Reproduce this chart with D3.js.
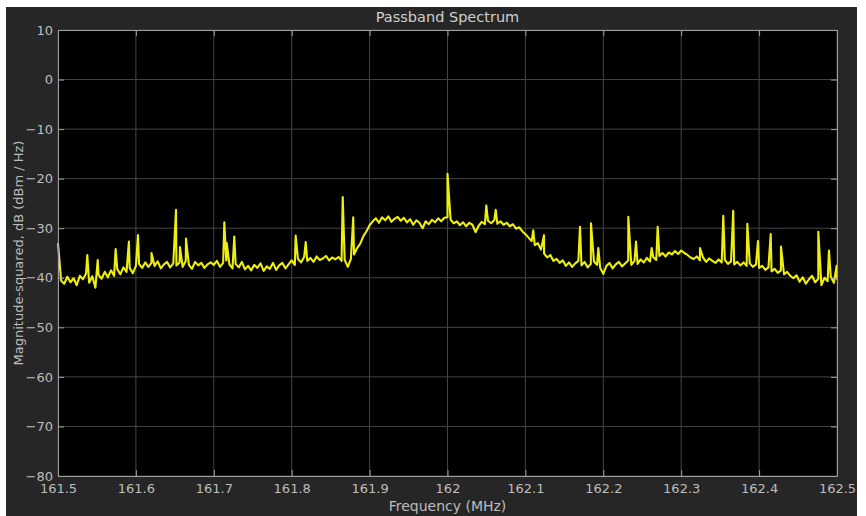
<!DOCTYPE html>
<html>
<head>
<meta charset="utf-8">
<script src="https://cdn.jsdelivr.net/npm/d3@7"></script>
<style>
  body { margin: 0; background: #fff; }
  text { font-family: "DejaVu Sans", Verdana, sans-serif; }
</style>
</head>
<body>
<div id="chart"></div>
<script>
// spectrum floor, sampled every 0.004 MHz from 161.5 MHz
var freqStart = 161.5;
var freqStep = 0.004;
var level = [
  -33.0, -40.6, -41.2, -39.8, -40.9, -40.1, -41.5, -39.6, -40.3, -39.2, -41.0, -39.7, -42.0, -39.4, -40.2,
  -38.8, -39.9, -38.5, -39.6, -38.2, -39.3, -37.9, -38.8, -38.0, -39.1, -37.6,
  -37.2, -38.0, -36.9, -37.8, -37.0, -37.6, -36.7, -38.1, -37.3, -36.8, -37.9, -37.1, -37.5, -36.9, -37.8, -36.6, -37.4, -38.2, -36.8, -37.5, -37.0, -38.0, -37.3, -36.9,
  -37.4, -36.6, -37.8, -37.0, -36.5, -37.3, -38.1, -37.2, -37.9, -36.8, -38.3, -37.6, -38.5, -37.4, -38.0, -37.1, -38.6, -37.7, -38.2, -37.0, -38.4, -37.5, -37.0, -38.1, -37.3,
  -36.5, -37.4, -36.2, -36.9, -35.8, -36.6, -36.0, -36.8, -35.7, -36.4, -36.1, -35.6, -36.5, -35.9, -36.3, -35.8, -36.6,
  -36.4, -37.8, -36.2, -35.3, -34.0, -33.1, -31.6, -30.6, -29.4,
  -28.6, -28.0, -28.9, -27.8, -28.4, -27.6, -28.7, -28.1, -27.7, -28.5, -27.9, -28.8, -28.2, -29.3, -28.4, -28.9, -30.0, -28.6, -29.2, -28.3, -28.8, -28.0, -28.6, -27.9,
  -27.8,
  -28.3, -29.0, -28.6, -29.4, -28.8, -29.6, -28.9, -29.3, -30.8, -29.5, -28.7, -29.2, -28.5, -29.0, -28.4, -29.1, -28.6, -29.3, -28.9, -29.6, -29.2, -30.1, -29.8, -30.6,
  -31.2, -31.9, -32.6, -33.4, -33.0, -34.3, -35.1, -35.9, -35.4, -36.6, -36.2,
  -37.0, -36.5, -37.6, -36.9, -37.8, -37.1, -36.6, -37.5, -36.8, -37.9, -37.2, -36.7, -37.4, -38.0,
  -39.2, -37.6, -37.0, -38.1, -37.3, -36.8, -37.7, -37.1, -36.5, -37.4, -36.6, -37.2, -36.3, -36.9, -36.0, -36.7, -35.8, -36.4,
  -35.6, -35.0, -35.7, -34.9, -35.3, -34.6, -35.2, -34.5, -35.0, -35.4, -35.9,
  -36.2, -35.7, -36.5, -35.9, -36.8, -36.1, -36.6, -37.0, -36.3, -36.9, -36.4, -37.2, -36.7, -37.3, -36.8, -37.5, -36.9, -37.6, -37.1, -37.8, -37.3,
  -38.0, -37.6, -38.4, -37.9, -38.7, -38.2, -39.0, -38.5, -39.3, -38.8, -39.6,
  -40.1, -39.5, -40.8, -39.9, -41.2, -40.3, -39.6, -40.9, -40.2, -41.5, -40.0, -40.7, -39.8, -41.0, -40.4
];

// narrow tones on top of the floor: [MHz, dB]
var tones = [
  [161.5376, -35.4], [161.5510, -36.4], [161.5740, -34.2], [161.5910, -32.7],
  [161.6027, -31.4], [161.6200, -35.0], [161.6515, -26.3], [161.6566, -33.8],
  [161.6643, -32.1], [161.7135, -28.8], [161.7166, -33.0], [161.7263, -31.7],
  [161.8051, -31.5], [161.8180, -32.8], [161.8655, -23.7], [161.8790, -27.8],
  [162.0000, -19.0], [162.0498, -25.4], [162.0619, -26.3], [162.1101, -30.4],
  [162.1239, -31.4], [162.1701, -29.7], [162.1842, -29.0], [162.1936, -34.0],
  [162.2321, -27.7], [162.2420, -32.7], [162.2621, -34.0], [162.2698, -29.7],
  [162.3241, -34.0], [162.3540, -27.5], [162.3668, -26.5], [162.3849, -29.1],
  [162.3986, -32.6], [162.4149, -31.2], [162.4281, -33.7], [162.4760, -30.7],
  [162.4897, -34.5], [162.4995, -37.6]
];

var xTicks = [161.5, 161.6, 161.7, 161.8, 161.9, 162, 162.1, 162.2, 162.3, 162.4, 162.5];
var yTicks = [-80, -70, -60, -50, -40, -30, -20, -10, 0, 10];

var W = 866, H = 516;
var plotL = 58, plotT = 30, plotR = 837, plotB = 476;
var labelColor = "#bdbdbd";

var svg = d3.select("#chart").append("svg")
    .attr("width", W)
    .attr("height", H);

// figure background
svg.append("rect").attr("x", 6).attr("y", 7).attr("width", 851).attr("height", H - 7).attr("fill", "#262626");

var x = d3.scaleLinear().domain([161.5, 162.5]).range([plotL, plotR]);
var y = d3.scaleLinear().domain([-80, 10]).range([plotB, plotT]);

// plot area
svg.append("rect").attr("x", plotL).attr("y", plotT)
    .attr("width", plotR - plotL).attr("height", plotB - plotT)
    .attr("fill", "#000");

// grid
svg.append("g").selectAll("line").data(xTicks).enter().append("line")
    .attr("x1", function(d) { return x(d); }).attr("x2", function(d) { return x(d); })
    .attr("y1", plotT).attr("y2", plotB)
    .attr("stroke", "#454545").attr("stroke-width", 1);
svg.append("g").selectAll("line").data(yTicks).enter().append("line")
    .attr("x1", plotL).attr("x2", plotR)
    .attr("y1", function(d) { return y(d); }).attr("y2", function(d) { return y(d); })
    .attr("stroke", "#454545").attr("stroke-width", 1);

// spectrum trace
var pts = level.map(function(v, i) { return [freqStart + i * freqStep, v]; })
    .concat(tones)
    .sort(function(a, b) { return a[0] - b[0]; });

var line = d3.line()
    .x(function(d) { return x(d[0]); })
    .y(function(d) { return y(d[1]); });

svg.append("path").datum(pts)
    .attr("d", line)
    .attr("fill", "none")
    .attr("stroke", "#eeee10")
    .attr("stroke-width", 2.1)
    .attr("stroke-linejoin", "round");

// axes with inward ticks
function styleAxis(g) {
    g.select(".domain").attr("stroke", "#a0a0a0");
    g.selectAll(".tick line").attr("stroke", "#a0a0a0");
    g.selectAll(".tick text").attr("fill", labelColor).style("font-size", "13px")
        .style("font-family", "'DejaVu Sans', Verdana, sans-serif");
}

svg.append("g").attr("transform", "translate(0," + plotB + ")")
    .call(d3.axisBottom(x).tickValues(xTicks).tickSize(-6).tickSizeOuter(0).tickPadding(8)
        .tickFormat(function(d) { return String(+d.toFixed(1)); }))
    .call(styleAxis);

svg.append("g").attr("transform", "translate(0," + plotT + ")")
    .call(d3.axisTop(x).tickValues(xTicks).tickSize(-6).tickSizeOuter(0).tickFormat(""))
    .call(styleAxis);

svg.append("g").attr("transform", "translate(" + plotL + ",0)")
    .call(d3.axisLeft(y).tickValues(yTicks).tickSize(-6).tickSizeOuter(0).tickPadding(5))
    .call(styleAxis);

svg.append("g").attr("transform", "translate(" + plotR + ",0)")
    .call(d3.axisRight(y).tickValues(yTicks).tickSize(-6).tickSizeOuter(0).tickFormat(""))
    .call(styleAxis);

// titles
svg.append("text")
    .attr("x", (plotL + plotR) / 2).attr("y", 22)
    .attr("text-anchor", "middle")
    .attr("fill", "#cfcfcf")
    .style("font-size", "14.5px")
    .text("Passband Spectrum");

svg.append("text")
    .attr("x", (plotL + plotR) / 2).attr("y", 511)
    .attr("text-anchor", "middle")
    .attr("fill", labelColor)
    .style("font-size", "14px")
    .text("Frequency (MHz)");

svg.append("text")
    .attr("transform", "translate(23," + ((plotT + plotB) / 2) + ") rotate(-90)")
    .attr("text-anchor", "middle")
    .attr("fill", labelColor)
    .style("font-size", "13px")
    .text("Magnitude-squared, dB (dBm / Hz)");
</script>
</body>
</html>
